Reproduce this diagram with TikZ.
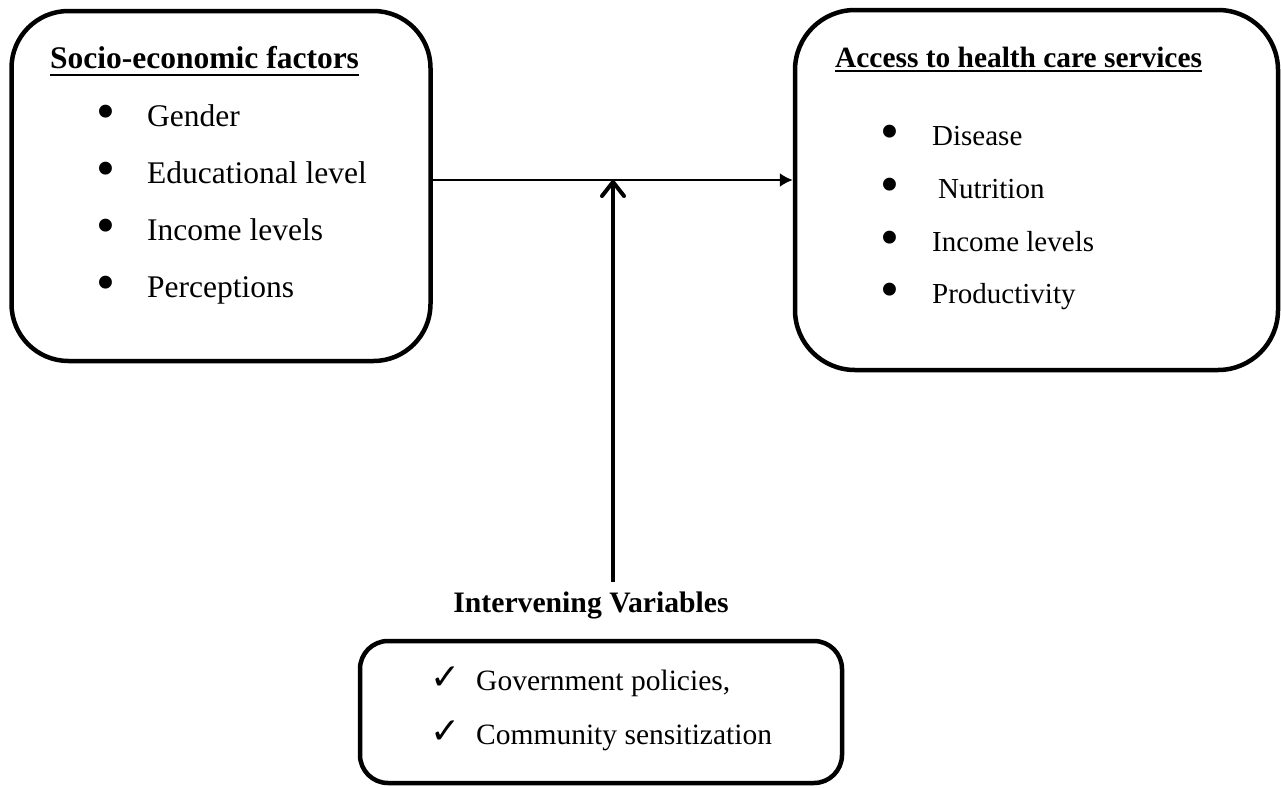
\documentclass[tikz,border=0pt]{standalone}
\usepackage{fontspec}
\setmainfont{Liberation Serif}
\newfontfamily\dejavu{DejaVu Sans}
\usetikzlibrary{arrows.meta}
\begin{document}
\begin{tikzpicture}[x=1pt,y=-1pt,
  box/.style={draw, line width=4.5pt, rounded corners=#1, inner sep=0pt},
  txt/.style={anchor=base west, inner sep=0pt, font=\fontsize{#1}{#1}\selectfont},
  ttl/.style={anchor=base west, inner sep=0pt, font=\fontsize{#1}{#1}\selectfont\bfseries},
  bul/.style={anchor=center, inner sep=0pt, font=\fontsize{54}{54}\selectfont},
  uline/.style={line width=2pt},
  chk/.style={anchor=center, inner sep=0pt, font=\dejavu\fontsize{36}{36}\selectfont}]
\useasboundingbox (0,0) rectangle (1281,787);
% boxes
\node[box=57pt, minimum width=419pt, minimum height=350pt] (L) at (221,186) {};
\node[box=60pt, minimum width=483pt, minimum height=360pt] (R) at (1036.5,190) {};
\node[box=28pt, minimum width=482pt, minimum height=142pt] (B) at (601,712) {};
% left box text
\node[ttl=31.5] (lt) at (50,68) {Socio-economic factors};
\draw[uline] ([yshift=-7pt]lt.base west) -- ([yshift=-7pt]lt.base east);
\node[bul] (lb1) at (106,117) {\textbullet};
\node[txt=31.5] (l1) at (147,126) {Gender};
\node[bul] (lb2) at (106,174) {\textbullet};
\node[txt=31.5] (l2) at (147,183) {Educational level};
\node[bul] (lb3) at (106,231) {\textbullet};
\node[txt=31.5] (l3) at (147,240) {Income levels};
\node[bul] (lb4) at (106,288) {\textbullet};
\node[txt=31.5] (l4) at (147,297) {Perceptions};
% right box text
\node[ttl=29.4] (rt) at (835,67) {Access to health care services};
\draw[uline] ([yshift=-3.5pt]rt.base west) -- ([yshift=-3.5pt]rt.base east);
\node[bul] (rb1) at (889.5,137) {\textbullet};
\node[txt=29] (r1) at (932,145) {Disease};
\node[bul] (rb2) at (889.5,190) {\textbullet};
\node[txt=29] (r2) at (938,198) {Nutrition};
\node[bul] (rb3) at (889.5,243) {\textbullet};
\node[txt=29] (r3) at (932,251) {Income levels};
\node[bul] (rb4) at (889.5,295) {\textbullet};
\node[txt=29] (r4) at (932,303) {Productivity};
% intervening
\node[anchor=base, inner sep=0pt, font=\fontsize{29.7}{29.7}\selectfont\bfseries] (iv) at (591,612) {Intervening Variables};
\node[chk] (c1) at (446,678) {✓};
\node[txt=29.5] (b1) at (476,690) {Government policies,};
\node[chk] (c2) at (446,732) {✓};
\node[txt=29.5] (b2) at (476,744) {Community sensitization};
% connectors
\coordinate (mid) at (613,180);
\coordinate (vstart) at (613,582);
\draw[line width=2pt, -{Latex[length=13pt,width=14pt]}] (L.east |- mid) -- (R.west |- mid);
\draw[line width=4pt, -{Straight Barb[length=14pt,width=22pt,round]}] (vstart) -- (mid);
\end{tikzpicture}
\end{document}
